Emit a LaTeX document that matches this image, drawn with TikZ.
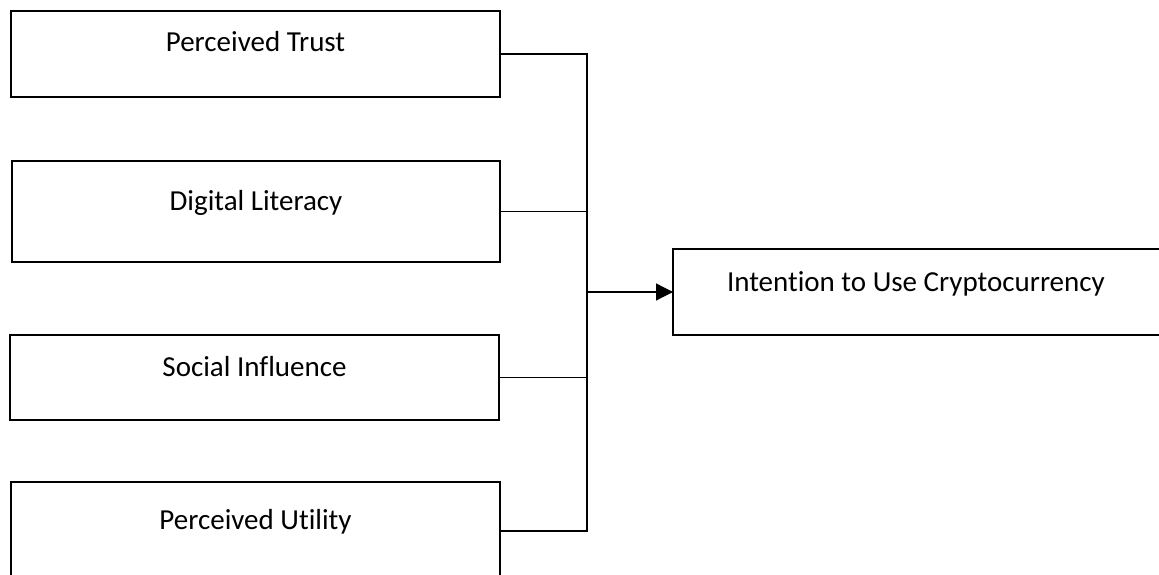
\documentclass[tikz,border=0pt]{standalone}
\usepackage{fontspec}
\setmainfont{Carlito}[Ligatures={NoCommon}]
\usetikzlibrary{arrows.meta}
\begin{document}
\begin{tikzpicture}[x=1pt,y=1pt,
  box/.style={draw=black, line width=2.4pt, inner sep=0pt, outer sep=0pt, anchor=north west,
    font=\fontsize{29}{34}\selectfont},
  conn/.style={draw=black, line width=1.2pt},
  arr/.style={conn, -{Triangle[length=17pt,width=17pt]}}]
\useasboundingbox (0,0) rectangle (1159,575);
\fill[white] (0,0) rectangle (1159,575);
\node[box, minimum width=489pt, text height=41pt, text depth=45pt] (b1) at (11,564) {Perceived Trust};
\node[box, minimum width=488pt, text height=50pt, text depth=51pt] (b2) at (12,414) {Digital Literacy};
\node[box, minimum width=489pt, text height=42pt, text depth=43pt] (b3) at (10,240) {Social Influence};
\node[box, minimum width=489pt, text height=48pt, text depth=50pt] (b4) at (11,93) {Perceived Utility};
\node[box, text height=43pt, text depth=43pt] (b5) at (673,326) {\hspace*{54pt}\makebox[470pt][l]{Intention to Use Cryptocurrency}};
\coordinate (bus) at (587,300);
\draw[conn] (b1.east) -- (b1.east -| bus) -- (b4.east -| bus) -- (b4.east);
\draw[conn] (b2.east) -- (b2.east -| bus);
\draw[conn] (b3.east) -- (b3.east -| bus);
\draw[arr] (b5.west -| bus) -- (b5.west);
\end{tikzpicture}
\end{document}
